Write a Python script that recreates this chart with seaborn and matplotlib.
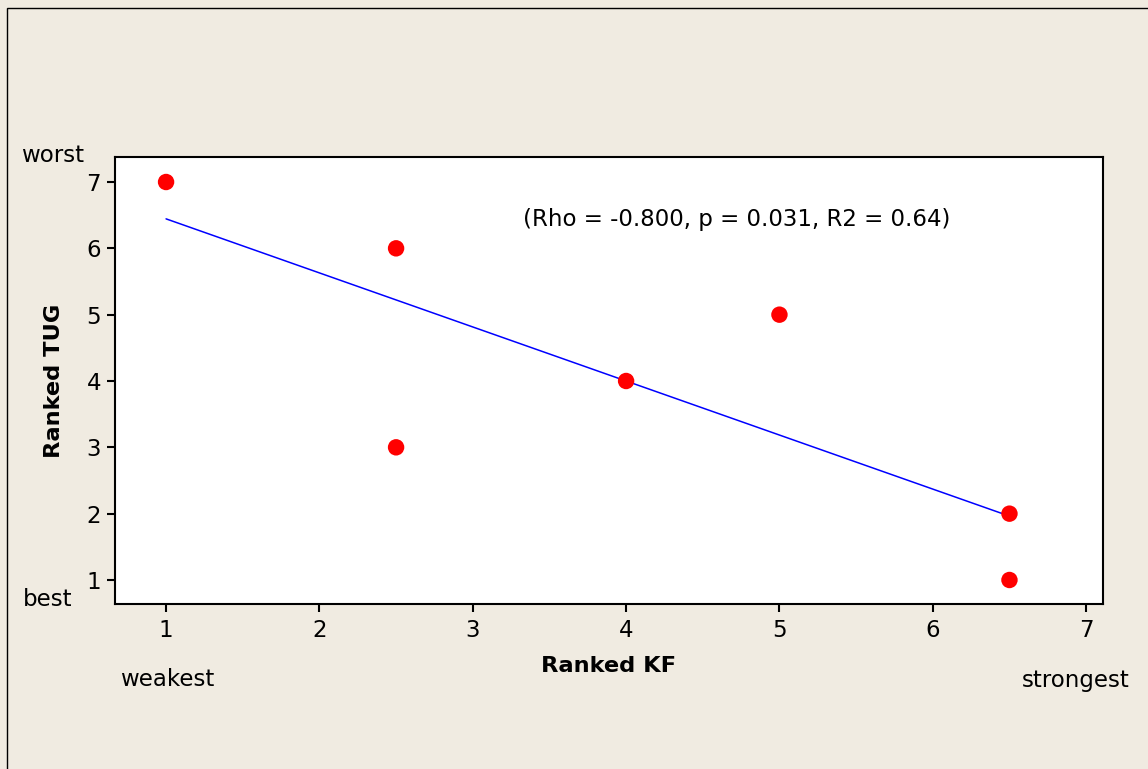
import seaborn as sns
import pandas as pd
import matplotlib.pyplot as plt
from matplotlib.patches import Rectangle

# ranked values
ranked_kf = [1, 2.5, 2.5, 4, 5, 6.5, 6.5]
ranked_tug = [7, 6, 3, 4, 5, 2, 1]
x_ticks = [1, 2, 3, 4, 5, 6, 7]
y_ticks = [1, 2, 3, 4, 5, 6, 7]
stats_label = '(Rho = -0.800, p = 0.031, R2 = 0.64)'

df = pd.DataFrame({'KF': ranked_kf, 'TUG': ranked_tug})

sns.set_style('ticks')
plt.rcParams['font.family'] = ['DejaVu Sans']
plt.rcParams['text.color'] = 'black'
plt.rcParams['axes.labelcolor'] = 'black'
plt.rcParams['xtick.color'] = 'black'
plt.rcParams['ytick.color'] = 'black'

FS = 16.5
W, H = 1148, 769
fig = plt.figure(figsize=(W / 100, H / 100), dpi=100, facecolor='#F0EBE1')
fig.patches.append(Rectangle((7 / W, -0.1), 1.2, 1 - 8 / H + 0.1,
                             transform=fig.transFigure, fill=False,
                             edgecolor='black', linewidth=1.0))

ax = fig.add_axes([115 / W, 1 - 604 / H, (1103 - 115) / W, (604 - 157) / H])
ax.set_facecolor('white')

sns.regplot(x='KF', y='TUG', data=df, ci=None, ax=ax,
            scatter_kws={'s': 140, 'color': '#FF0000', 'edgecolor': 'none', 'alpha': 1, 'zorder': 3},
            line_kws={'color': '#0000FF', 'linewidth': 1.1, 'zorder': 2})

ax.set_xlim(0.667, 7.11)
ax.set_ylim(0.638, 7.377)
ax.set_xticks(x_ticks)
ax.set_yticks(y_ticks)
ax.tick_params(axis='x', labelsize=FS, length=6, width=1.5, pad=5)
ax.tick_params(axis='y', labelsize=FS, length=6, width=1.5, pad=4)
for s in ax.spines.values():
    s.set_linewidth(1.5)
    s.set_color('black')

ax.set_xlabel('Ranked KF', fontsize=16.2, fontweight='bold', labelpad=10)
ax.set_ylabel('Ranked TUG', fontsize=16.2, fontweight='bold', labelpad=16)

ax.text(4.72, 6.43, stats_label, fontsize=FS, ha='center', va='center')

fig.text(53 / W, 1 - 156 / H, 'worst', fontsize=FS, ha='center', va='center')
fig.text(48 / W, 1 - 600 / H, 'best', fontsize=FS, ha='center', va='center')
fig.text(167 / W, 1 - 679 / H, 'weakest', fontsize=FS, ha='center', va='center')
fig.text(1076 / W, 1 - 681 / H, 'strongest', fontsize=FS, ha='center', va='center')

plt.savefig('out.png', dpi=100, facecolor=fig.get_facecolor())
